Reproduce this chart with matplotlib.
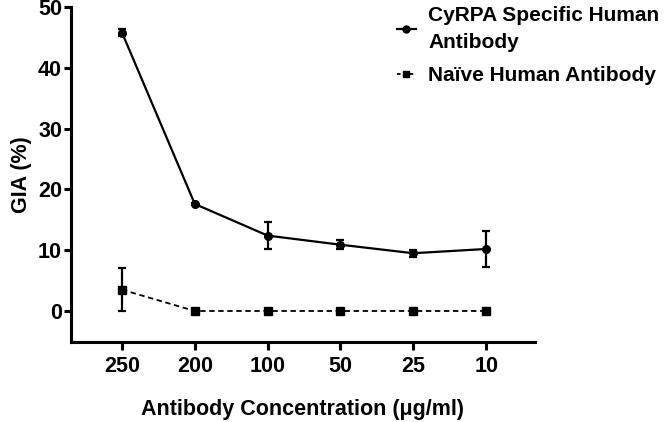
import matplotlib
matplotlib.use("Agg")
import matplotlib.pyplot as plt
from matplotlib.lines import Line2D
import numpy as np

plt.rcParams['font.family'] = ['Liberation Sans', 'DejaVu Sans']
plt.rcParams['font.weight'] = 'bold'

concentrations = ["250", "200", "100", "50", "25", "10"]
cyrpa_mean = [45.8, 17.6, 12.4, 10.9, 9.5, 10.2]
cyrpa_err = [0.5, 0.2, 2.2, 0.7, 0.6, 2.9]
naive_mean = [3.5, 0.0, 0.0, 0.0, 0.0, 0.0]
naive_err = [3.5, 0.0, 0.0, 0.0, 0.0, 0.0]
labels = ['CyRPA Specific Human\nAntibody', 'Naïve Human Antibody']

fig = plt.figure(figsize=(6.66, 4.22), dpi=100)
ax = fig.add_axes([0.1066, 0.1896, 0.6966, 0.7938])

x = np.arange(len(concentrations))
ax.errorbar(x, cyrpa_mean, yerr=cyrpa_err, color='black', marker='o', markersize=5.5,
            linewidth=1.6, capsize=3, capthick=1.6, elinewidth=1.6)
ax.errorbar(x, naive_mean, yerr=naive_err, color='black', marker='s', markersize=5.5,
            linewidth=1.3, linestyle=(0, (3, 2)), capsize=3, capthick=1.6, elinewidth=1.6)

ax.set_xlim(-0.70, 5.67)
ax.set_ylim(-5.1, 50)
ax.set_yticks([0, 10, 20, 30, 40, 50])
ax.set_xticks(x)
ax.set_xticklabels(concentrations)
ax.spines['top'].set_visible(False)
ax.spines['right'].set_visible(False)
for s in ['left', 'bottom']:
    ax.spines[s].set_linewidth(2.2)
ax.tick_params(axis='y', width=2.2, length=5, labelsize=15.5, direction='out', pad=1.5)
ax.tick_params(axis='x', width=2.2, length=6, labelsize=15.5, direction='out', pad=4)
for lab in ax.get_xticklabels() + ax.get_yticklabels():
    lab.set_fontweight('bold')

ax.set_ylabel('GIA (%)', fontsize=15.5, fontweight='bold', labelpad=4)
ax.set_xlabel('Antibody Concentration (μg/ml)', fontsize=15.5, fontweight='bold', labelpad=16)

handles = [
    Line2D([], [], color='black', marker='o', markersize=5, linewidth=1.6),
    Line2D([], [], color='black', marker='s', markersize=5, linewidth=1.3, linestyle=(0, (2, 1.5))),
]
leg = fig.legend(handles, labels, loc='upper left', bbox_to_anchor=(0.568, 1.03), frameon=False,
                 handlelength=0.9, handletextpad=0.6, labelspacing=0.65,
                 prop={'weight': 'bold', 'size': 15})
for t in leg.get_texts():
    t.set_linespacing(1.55)

fig.savefig('out.png', dpi=100)
